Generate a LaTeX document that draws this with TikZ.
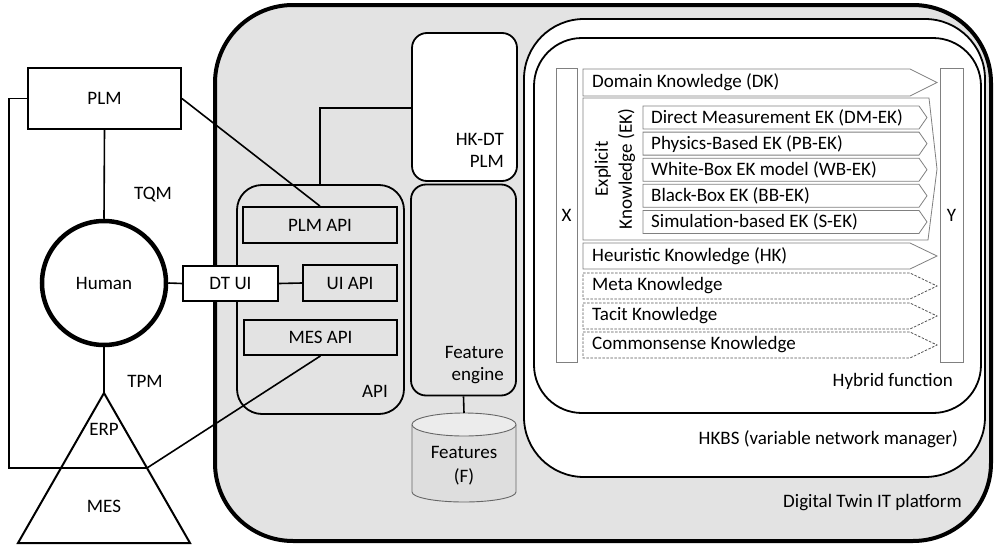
\documentclass[tikz,border=0pt]{standalone}
\usepackage{fontspec}
\setmainfont{Carlito}
\definecolor{bggray}{HTML}{E3E3E3}
\definecolor{kgray}{HTML}{808080}
\definecolor{dgray}{HTML}{555555}
\definecolor{cylbody}{HTML}{DEDEDE}
\definecolor{cyltop}{HTML}{ECECEC}
\begin{document}
\begin{tikzpicture}[x=1pt,y=-1pt,
  font=\fontsize{19}{22}\selectfont,
  ln/.style={line width=1.6pt},
  sqbox/.style={draw, line width=1.8pt, fill=white, inner sep=0pt},
  apibox/.style={draw, line width=1.8pt, fill=bggray, inner sep=0pt},
  txt/.style={inner sep=0pt},
  karrow/.style={draw=kgray, line width=0.8pt, fill=white},
  darrow/.style={draw=dgray, line width=0.8pt, dashed, dash pattern=on 2.5pt off 1.5pt, fill=white},
  bar/.style={draw=kgray, line width=0.8pt, fill=white},
  cyl/.style={draw=dgray!90, line width=0.9pt}]
\useasboundingbox (0,0) rectangle (994,546);

% platform
\node[draw, line width=4pt, fill=bggray, rounded corners=78pt, minimum width=776pt, minimum height=536pt] (dt) at (603,273) {};
\node[txt, anchor=east] (dtlbl) at (962,503) {Digital Twin IT platform};

% HKBS and hybrid function
\node[draw, line width=1.8pt, fill=white, rounded corners=60pt, minimum width=461pt, minimum height=458pt] (hkbs) at (754.5,248) {};
\node[txt, anchor=east] (hkbslbl) at (958,439) {HKBS (variable network manager)};
\node[draw, line width=1.8pt, fill=white, rounded corners=48pt, minimum width=447pt, minimum height=375pt] (hyb) at (757.5,225.5) {};
\node[txt, anchor=east] (hyblbl) at (953,381) {Hybrid function};

% X and Y bars
\node[bar, minimum width=21pt, minimum height=294pt] (xbar) at (566.5,215) {};
\node[txt] (xl) at (566.5,215) {X};
\node[bar, minimum width=23pt, minimum height=294pt] (ybar) at (951.5,215) {};
\node[txt] (yl) at (951.5,215) {Y};

% knowledge arrows
\draw[karrow] (583,69) -- (910,69) -- (937,82.5) -- (910,96) -- (583,96) -- cycle;
\node[txt, anchor=west] (dk) at (592,82.5) {Domain Knowledge (DK)};
\draw[karrow] (583,98) -- (929,98) -- (937,169) -- (928,240) -- (583,240) -- cycle;
\node[txt, rotate=90, align=center, font=\fontsize{19}{24}\selectfont] (ek) at (615,169) {Explicit\\Knowledge (EK)};
\foreach \c/\t/\n in {117.5/Direct Measurement EK (DM-EK)/dm,
                      143.6/Physics-Based EK (PB-EK)/pb,
                      169.7/White-Box EK model (WB-EK)/wb,
                      195.8/Black-Box EK (BB-EK)/bb,
                      221.9/Simulation-based EK (S-EK)/se}{
  \draw[karrow] (643,\c-11.5) -- (919,\c-11.5) -- (927,\c) -- (919,\c+11.5) -- (643,\c+11.5) -- cycle;
  \node[txt, anchor=west] (\n) at (651,\c) {\t};
}
\draw[karrow] (583,243) -- (910,243) -- (937,256) -- (910,269) -- (583,269) -- cycle;
\node[txt, anchor=west] (hk) at (592,256) {Heuristic Knowledge (HK)};
\foreach \c/\t/\n in {286/Meta Knowledge/mk, 316/Tacit Knowledge/tk, 345/Commonsense Knowledge/ck}{
  \draw[darrow] (583,\c-13) -- (910,\c-13) -- (937,\c) -- (910,\c+13) -- (583,\c+13) -- cycle;
  \node[txt, anchor=west] (\n) at (592,\c) {\t};
}

% HK-DT PLM, feature engine, features
\node[draw, line width=1.8pt, fill=white, rounded corners=15pt, minimum width=105pt, minimum height=148pt] (hkdt) at (464.5,107) {};
\node[txt, anchor=east, align=right] (hkdtlbl) at (504,150) {HK-DT\\PLM};
\node[draw, line width=1.8pt, fill=bggray, rounded corners=15pt, minimum width=105pt, minimum height=211pt] (fe) at (463.5,290) {};
\node[txt, anchor=east, align=right] (felbl) at (504,365) {Feature\\engine};
\draw[cyl, fill=cylbody] (412,424.5) -- (412,492) arc[start angle=180, end angle=360, x radius=52, y radius=-10] -- (516,424.5);
\draw[cyl, fill=cyltop] (464,424.5) ellipse[x radius=52, y radius=11.5];
\coordinate (feattop) at (464,413);
\node[txt, align=center, font=\fontsize{19}{24}\selectfont] (feat) at (464,466) {Features\\(F)};
\draw[ln] (fe.south) -- (feattop);

% API
\node[draw, line width=1.8pt, fill=bggray, rounded corners=25pt, minimum width=167pt, minimum height=229pt] (api) at (320.5,299.5) {};
\node[txt, anchor=east] (apilbl) at (388,391) {API};
\node[apibox, minimum width=154pt, minimum height=36pt] (plmapi) at (320,225) {PLM API};
\node[apibox, minimum width=94pt, minimum height=36pt] (uiapi) at (350,283) {UI API};
\node[apibox, minimum width=153pt, minimum height=35pt] (mesapi) at (320.5,337.5) {MES API};
\draw[ln] (hkdt.west |- 0,108) -| (api.north -| 320,0);

% left side
\node[sqbox, minimum width=153pt, minimum height=61pt] (plm) at (104.5,98.5) {PLM};
\node[draw, circle, line width=4.5pt, fill=white, minimum size=124pt, inner sep=0pt] (human) at (104,283) {Human};
\node[sqbox, minimum width=95pt, minimum height=35pt] (dtui) at (230.5,283.5) {DT UI};
\coordinate (apex) at (104,393);
\coordinate (bl) at (18,543);
\coordinate (br) at (190,543);
\coordinate (erpr) at (147,468);
\coordinate (loopl) at (9,468);
\draw[line width=2pt, fill=white, line join=miter] (apex) -- (br) -- (bl) -- cycle;
\node[txt] (erp) at (104,429) {ERP};
\node[txt] (mes) at (104,506) {MES};
\node[txt] (tqm) at (153,195) {TQM};
\node[txt] (tpm) at (145,381) {TPM};

\draw[ln] (plm.south) -- (human.north);
\draw[ln] (human.south) -- (apex);
\draw[ln] (plm.west) -| (loopl) -- (erpr);
\draw[ln] (erpr) -- (mesapi.south);
\draw[ln] (plm.east) -- (plmapi.north);
\draw[ln] (human.east) -- (dtui.west);
\draw[ln] (dtui.east) -- (uiapi.west);
\end{tikzpicture}
\end{document}
